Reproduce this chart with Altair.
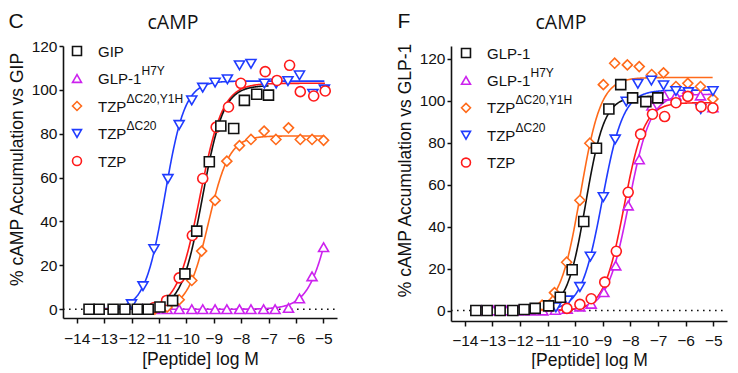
import altair as alt
import pandas as pd

# ---------------- series names / styling ----------------
NAMES_C = ["GIP", "GLP-1H7Y", "TZPdC20Y1H", "TZPdC20", "TZP"]
NAMES_F = ["GLP-1", "GLP-1H7Y", "TZPdC20Y1H", "TZPdC20", "TZP"]
LEG_MAIN_C = ["GIP", "GLP-1", "TZP", "TZP", "TZP"]
LEG_MAIN_F = ["GLP-1", "GLP-1", "TZP", "TZP", "TZP"]
LEG_SUP = ["", "H7Y", "ΔC20,Y1H", "ΔC20", ""]
COLORS = ["#111111", "#cc22ee", "#ff6a1a", "#1f3bff", "#ff1a1a"]
SHAPES = ["square", "triangle-up", "diamond", "triangle-down", "circle"]

# ---------------- Panel C (vs GIP) data ----------------
C_GIP_X = [-13.55, -13.18, -12.67, -12.24, -11.79, -11.39, -10.96, -10.50, -10.05, -9.62, -9.16, -8.74, -8.27, -7.88, -7.43, -7.00]
C_GIP_Y = [0, 0, 0, 0, 0, 0, 1.0, 3.9, 16.1, 35.6, 67.2, 83.5, 82.4, 95.2, 98.0, 97.6]
C_H7Y_X = [-11.60, -11.15, -10.70, -10.26, -9.80, -9.40, -8.95, -8.52, -8.06, -7.64, -7.18, -6.76, -6.27, -5.87, -5.41, -4.99]
C_H7Y_Y = [0, 0, 0, 0, 0, 0, 0, 0, 0, 0, 0, 0, 0.6, 4.9, 15.0, 28.3]
C_Y1H_X = [-11.15, -10.70, -10.26, -9.80, -9.44, -8.95, -8.52, -8.06, -7.64, -7.16, -6.73, -6.27, -5.84, -5.41, -4.99]
C_Y1H_Y = [0, 1.0, 4.3, 13.1, 26.5, 49.6, 67.5, 74.6, 77.4, 81.2, 77.4, 82.7, 77.4, 77.4, 77.0]
C_D20_X = [-12.00, -11.58, -11.18, -10.67, -10.26, -9.80, -9.40, -8.95, -8.50, -8.06, -7.64, -7.15, -6.72, -6.29, -5.87, -5.38, -4.96]
C_D20_Y = [2.3, 10.5, 27.4, 59.4, 84.0, 95.2, 101.0, 103.3, 104.8, 111.2, 111.9, 102.9, 102.9, 104.0, 106.6, 98.2, 100.2]
C_TZP_X = [-11.17, -10.72, -10.26, -9.78, -9.40, -8.91, -8.46, -8.01, -7.12, -6.69, -6.23, -5.84, -5.35, -4.93]
C_TZP_Y = [0.8, 4.0, 14.3, 33.6, 59.6, 83.0, 92.2, 103.0, 108.3, 104.3, 111.2, 99.2, 97.2, 99.5]
# fitted curve parameters (top, logEC50, Hill slope)
C_TOP = [102, 100, 79, 104, 103]
C_LOGEC50 = [-9.41, -4.59, -9.19, -10.78, -9.50]
C_HILL = [1.14, 1.0, 1.15, 1.19, 1.05]
C_XEND = [-7.00, -4.99, -4.99, -4.96, -4.93]

# ---------------- Panel F (vs GLP-1) data ----------------
F_GLP_X = [-13.60, -13.19, -12.72, -12.26, -11.85, -11.45, -10.96, -10.54, -10.11, -9.69, -9.23, -8.78, -8.35, -7.92, -7.44, -7.01]
F_GLP_Y = [0, 0, 0, 0, 0.5, 1.0, 2.2, 6.3, 19.4, 42.4, 77.3, 96.0, 107.6, 101.3, 99.5, 101.3]
F_H7Y_X = [-13.40, -12.95, -12.50, -12.05, -11.60, -11.17, -10.72, -10.29, -9.83, -9.42, -8.96, -8.53, -8.08, -7.68, -7.22, -6.77, -6.35, -5.92, -5.46, -5.01]
F_H7Y_Y = [0, 0, 0, 0, 0, 0, 0.3, 0.8, 1.9, 3.2, 8.7, 21.4, 50.0, 72.0, 97.6, 102.4, 102.4, 105.6, 102.4, 96.8]
F_Y1H_X = [-11.20, -10.75, -10.31, -9.83, -9.47, -8.98, -8.57, -8.11, -7.68, -7.23, -6.80, -6.35, -5.92, -5.46, -5.01]
F_Y1H_Y = [2.5, 8.5, 23.0, 52.5, 79.7, 107.6, 117.8, 117.0, 116.2, 112.4, 113.2, 106.7, 108.2, 106.7, 100.8]
F_D20_X = [-10.70, -10.27, -9.83, -9.45, -8.98, -8.55, -8.15, -7.73, -7.24, -6.80, -6.35, -5.90, -5.45, -5.01]
F_D20_Y = [1.5, 4.8, 11.2, 25.7, 54.0, 81.5, 99.5, 108.0, 109.5, 107.3, 104.5, 104.0, 96.0, 104.5]
F_TZP_X = [-10.30, -9.83, -9.42, -8.93, -8.51, -8.08, -7.63, -7.20, -6.76, -6.35, -5.92, -5.44, -5.01]
F_TZP_Y = [1.0, 2.9, 5.6, 13.5, 28.2, 56.3, 84.0, 93.5, 92.4, 99.0, 102.0, 97.1, 96.5]
F_TOP = [102, 103, 111, 105, 99]
F_LOGEC50 = [-9.62, -8.05, -9.81, -9.02, -8.23]
F_HILL = [1.28, 1.11, 1.17, 1.14, 1.19]
F_XEND = [-7.01, -5.01, -5.01, -5.01, -5.01]

X_TICKS = list(range(-14, -4))
Y_TICKS = [0, 20, 40, 60, 80, 100, 120]

FONT = "Arial"
TFONT = "Open Sans"
INK = "#111111"


def points_df(names, xs, ys):
    rows = []
    # draw order: magenta, orange, blue, red, black (black on top)
    for i in [1, 2, 3, 4, 0]:
        for x, y in zip(xs[i], ys[i]):
            rows.append({"series": names[i], "x": x, "y": y})
    return pd.DataFrame(rows)


def panel(letter, names, leg_main, xs, ys, tops, ecs, hills, xends,
          ytitle, width, height, ydom, leg_x, leg_y0, leg_dy, sup_dx,
          xlabpad, xtitlepad, ytitle_y):
    xsc = alt.Scale(domain=[-14.5, -4.5], nice=False, zero=False)
    ysc = alt.Scale(domain=ydom, nice=False, zero=False)
    csc = alt.Scale(domain=names, range=COLORS)
    ssc = alt.Scale(domain=names, range=SHAPES)
    xax = alt.Axis(values=X_TICKS, format="d", title="[Peptide] log M",
                   grid=False, tickSize=5, tickWidth=1.5, domainWidth=1.6,
                   domainColor=INK, tickColor=INK, labelColor=INK, titleColor=INK,
                   labelFontSize=15.5, titleFontSize=17.5, labelFont=FONT, titleFont=FONT,
                   titleFontWeight="normal", labelPadding=xlabpad, titlePadding=xtitlepad,
                   labelFlush=False, labelOverlap=False)
    yax = alt.Axis(values=Y_TICKS, title=ytitle, grid=False, tickSize=4, tickWidth=1.5,
                   domainWidth=1.6, domainColor=INK, tickColor=INK, labelColor=INK,
                   titleColor=INK, labelFontSize=15.5, titleFontSize=17.5, labelFont=FONT,
                   titleFont=FONT, titleFontWeight="normal", labelPadding=2, titlePadding=5,
                   labelFlush=False, titleY=ytitle_y)

    layers = []
    # dotted zero line
    zero = pd.DataFrame({"x": [-14.5], "x2": [-4.5], "y": [0]})
    layers.append(alt.Chart(zero).mark_rule(color=INK, strokeWidth=1.6, strokeDash=[1.6, 4.4]).encode(
        x=alt.X("x:Q", scale=xsc, axis=xax), x2="x2:Q", y=alt.Y("y:Q", scale=ysc, axis=yax)))
    # fitted curves (4-parameter logistic with the read parameters)
    for i in [1, 2, 3, 4, 0]:
        expr = f"{tops[i]}/(1+pow(10,({ecs[i]}-datum.x)*{hills[i]}))"
        layers.append(
            alt.Chart(alt.sequence(-13.6, xends[i] + 0.001, 0.02, as_="x"))
            .transform_calculate(y=expr)
            .mark_line(color=COLORS[i], strokeWidth=1.6)
            .encode(x=alt.X("x:Q", scale=xsc, axis=xax), y=alt.Y("y:Q", scale=ysc, axis=yax))
        )
    # data points
    pdf = points_df(names, xs, ys)
    layers.append(
        alt.Chart(pdf).mark_point(filled=False, fill="white", fillOpacity=1, opacity=1,
                                  strokeWidth=1.6, size=100)
        .encode(x=alt.X("x:Q", scale=xsc, axis=xax), y=alt.Y("y:Q", scale=ysc, axis=yax),
                color=alt.Color("series:N", scale=csc, legend=None),
                shape=alt.Shape("series:N", scale=ssc, legend=None))
    )
    # legend (symbols + text with raised superscripts)
    leg = pd.DataFrame({
        "series": names,
        "main": leg_main,
        "sup": LEG_SUP,
        "sx": [leg_x] * 5,
        "sy": [leg_y0 + leg_dy * i for i in range(5)],
        "tx": [leg_x + 21] * 5,
        "ty": [leg_y0 + leg_dy * i + 5.5 for i in range(5)],
        "ux": [leg_x + 21 + d for d in sup_dx],
        "uy": [leg_y0 + leg_dy * i + 5.5 - 9 for i in range(5)],
    })
    layers.append(
        alt.Chart(leg).mark_point(filled=False, fill="white", fillOpacity=1, opacity=1,
                                  strokeWidth=1.6, size=80)
        .encode(x=alt.X("sx:Q", scale=None), y=alt.Y("sy:Q", scale=None),
                color=alt.Color("series:N", scale=csc, legend=None),
                shape=alt.Shape("series:N", scale=ssc, legend=None))
    )
    layers.append(
        alt.Chart(leg).mark_text(align="left", baseline="alphabetic", font=FONT, fontSize=15,
                                 color=INK)
        .encode(x=alt.X("tx:Q", scale=None), y=alt.Y("ty:Q", scale=None), text="main:N")
    )
    layers.append(
        alt.Chart(leg).mark_text(align="left", baseline="alphabetic", font=FONT, fontSize=12,
                                 color=INK)
        .encode(x=alt.X("ux:Q", scale=None), y=alt.Y("uy:Q", scale=None), text="sup:N")
    )
    # panel letter + title
    layers.append(
        alt.Chart(pd.DataFrame({"t": [letter]})).mark_text(font=FONT, fontSize=21, color=INK,
                                                            align="center", baseline="middle")
        .encode(x=alt.value(-47), y=alt.value(-24), text="t:N")
    )
    layers.append(
        alt.Chart(pd.DataFrame({"t": ["cAMP"]})).mark_text(font=TFONT, fontSize=19.5, color=INK,
                                                            align="center", baseline="middle")
        .encode(x=alt.value(110), y=alt.value(-23), text="t:N")
    )
    return alt.layer(*layers).properties(width=width, height=height)


left = panel("C", NAMES_C, LEG_MAIN_C,
             [C_GIP_X, C_H7Y_X, C_Y1H_X, C_D20_X, C_TZP_X],
             [C_GIP_Y, C_H7Y_Y, C_Y1H_Y, C_D20_Y, C_TZP_Y],
             C_TOP, C_LOGEC50, C_HILL, C_XEND,
             "% cAMP Accumulation vs GIP", 274, 272, [-4, 120],
             14, 5, 27.5, [0, 43.5, 28.5, 28.5, 0], 8, 4, 123)
right = panel("F", NAMES_F, LEG_MAIN_F,
              [F_GLP_X, F_H7Y_X, F_Y1H_X, F_D20_X, F_TZP_X],
              [F_GLP_Y, F_H7Y_Y, F_Y1H_Y, F_D20_Y, F_TZP_Y],
              F_TOP, F_LOGEC50, F_HILL, F_XEND,
              "% cAMP Accumulation vs GLP-1", 276, 275, [-5, 126],
              15, 7, 27.4, [0, 43.5, 28.5, 28.5, 0], 7, 3, 124)

chart = (
    alt.hconcat(left, right, spacing=58)
    .properties(padding={"left": 0, "top": 3, "right": 0, "bottom": 0}, background="white")
    .configure_view(stroke=None)
)

chart.save("out.html", embed_options={"renderer": "svg", "actions": False})
